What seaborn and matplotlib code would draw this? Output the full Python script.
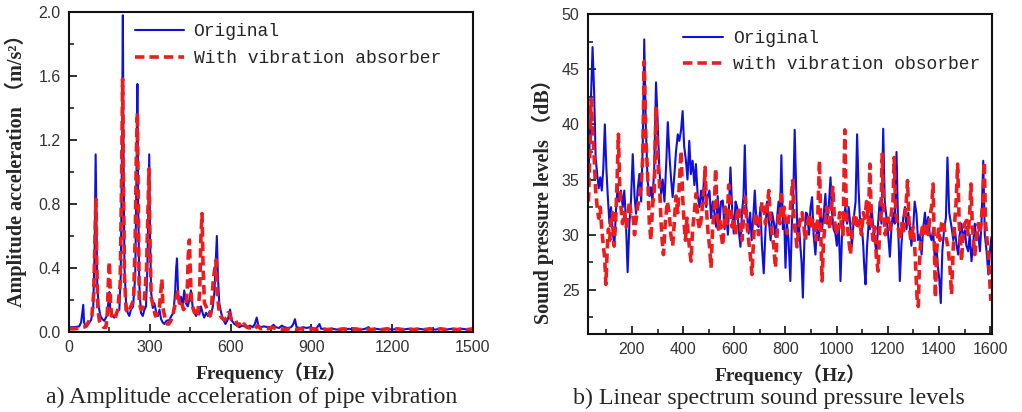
import numpy as np
import pandas as pd
import matplotlib
matplotlib.use("Agg")
import matplotlib.pyplot as plt
from matplotlib.ticker import MultipleLocator
import seaborn as sns

# ---------------- Data: panel a (pipe vibration acceleration) ----------------
freq_a_orig = [0, 20, 38, 45, 50, 53, 56, 63, 72, 82, 90, 95, 99, 102, 105, 110, 117, 124, 131, 140,
               146, 150, 154, 162, 168, 176, 187, 192, 196, 200, 203, 206, 212, 218, 224, 230, 238, 246,
               250, 254, 257, 261, 267, 274, 280, 286, 291, 295, 298, 301, 305, 311, 317, 324, 330, 336,
               342, 348, 354, 362, 373, 380, 388, 394, 398, 401, 405, 410, 416, 422, 428, 434, 441, 447,
               453, 460, 466, 472, 478, 484, 490, 496, 502, 509, 516, 522, 528, 534, 540, 545, 549, 553,
               558, 565, 572, 581, 590, 598, 605, 614, 624, 633, 642, 652, 662, 672, 682, 690, 697, 703,
               712, 724, 738, 750, 759, 768, 780, 790, 800, 812, 825, 833, 839, 845, 858, 870, 882, 895,
               905, 918, 930, 936, 950, 965, 980, 995, 1010, 1025, 1040, 1055, 1070, 1085, 1100, 1112,
               1120, 1140, 1160, 1180, 1200, 1220, 1240, 1260, 1280, 1300, 1320, 1340, 1360, 1380, 1400,
               1420, 1440, 1460, 1480, 1500]
acc_orig = [0.03, 0.03, 0.035, 0.06, 0.13, 0.17, 0.06, 0.03, 0.05, 0.075, 0.15, 0.5, 1.11, 0.7, 0.30,
            0.16, 0.10, 0.08, 0.07, 0.10, 0.18, 0.25, 0.12, 0.10, 0.09, 0.12, 0.14, 0.35, 1.0, 1.98, 1.0,
            0.4, 0.18, 0.12, 0.10, 0.14, 0.16, 0.35, 0.9, 1.55, 0.8, 0.30, 0.12, 0.10, 0.14, 0.16, 0.40,
            0.8, 1.11, 0.6, 0.25, 0.15, 0.18, 0.12, 0.10, 0.14, 0.08, 0.06, 0.05, 0.07, 0.075, 0.10, 0.12,
            0.25, 0.40, 0.46, 0.25, 0.18, 0.22, 0.16, 0.26, 0.18, 0.16, 0.20, 0.26, 0.14, 0.12, 0.10, 0.13,
            0.11, 0.16, 0.12, 0.09, 0.12, 0.10, 0.13, 0.11, 0.16, 0.25, 0.45, 0.60, 0.35, 0.18, 0.12, 0.08,
            0.05, 0.08, 0.14, 0.07, 0.05, 0.04, 0.03, 0.04, 0.035, 0.03, 0.04, 0.03, 0.05, 0.09, 0.04,
            0.03, 0.035, 0.03, 0.03, 0.045, 0.03, 0.025, 0.04, 0.03, 0.025, 0.03, 0.05, 0.08, 0.03, 0.025,
            0.03, 0.025, 0.03, 0.025, 0.02, 0.05, 0.02, 0.02, 0.015, 0.02, 0.015, 0.02, 0.015, 0.02, 0.015,
            0.02, 0.015, 0.02, 0.03, 0.015, 0.02, 0.015, 0.02, 0.015, 0.02, 0.015, 0.02, 0.015, 0.02,
            0.015, 0.02, 0.015, 0.02, 0.015, 0.02, 0.015, 0.02, 0.015, 0.02]

freq_a_abs = [0, 20, 40, 55, 65, 76, 85, 92, 96, 100, 103, 107, 113, 119, 128, 137, 142, 146, 150, 154,
              158, 162, 170, 181, 190, 195, 199, 202, 206, 212, 220, 230, 240, 246, 250, 254, 258, 261,
              268, 275, 280, 288, 293, 297, 301, 305, 313, 321, 329, 336, 341, 345, 349, 358, 365, 370,
              378, 385, 395, 404, 410, 416, 425, 435, 440, 443, 447, 451, 455, 459, 466, 472, 478, 485,
              490, 494, 498, 503, 509, 516, 524, 530, 536, 542, 546, 550, 558, 566, 577, 586, 590, 595,
              602, 608, 614, 620, 626, 633, 640, 650, 660, 670, 680, 690, 700, 712, 725, 740, 755, 770,
              785, 800, 820, 840, 860, 880, 900, 920, 940, 960, 980, 1000, 1020, 1040, 1060, 1080, 1100,
              1120, 1140, 1160, 1180, 1200, 1220, 1240, 1260, 1280, 1300, 1320, 1340, 1360, 1380, 1400,
              1420, 1440, 1460, 1480, 1500]
acc_abs = [0.02, 0.02, 0.025, 0.03, 0.04, 0.075, 0.10, 0.25, 0.55, 0.83, 0.45, 0.15, 0.07, 0.05, 0.03,
           0.03, 0.10, 0.30, 0.44, 0.20, 0.10, 0.10, 0.08, 0.14, 0.30, 0.90, 1.58, 1.0, 0.35, 0.14, 0.12,
           0.16, 0.20, 0.6, 1.1, 1.37, 0.7, 0.18, 0.14, 0.16, 0.20, 0.40, 0.75, 1.02, 0.55, 0.22, 0.16,
           0.10, 0.12, 0.16, 0.25, 0.33, 0.15, 0.075, 0.05, 0.05, 0.07, 0.10, 0.18, 0.26, 0.18, 0.20,
           0.14, 0.16, 0.30, 0.48, 0.575, 0.35, 0.18, 0.16, 0.12, 0.13, 0.10, 0.25, 0.60, 0.74, 0.40,
           0.18, 0.16, 0.12, 0.10, 0.18, 0.33, 0.40, 0.45, 0.25, 0.12, 0.09, 0.075, 0.09, 0.12, 0.12,
           0.08, 0.065, 0.065, 0.07, 0.04, 0.05, 0.03, 0.05, 0.03, 0.025, 0.03, 0.02, 0.04, 0.02, 0.025,
           0.02, 0.03, 0.02, 0.02, 0.015, 0.02, 0.015, 0.02, 0.015, 0.02, 0.015, 0.02, 0.015, 0.02,
           0.015, 0.02, 0.015, 0.02, 0.015, 0.02, 0.015, 0.02, 0.015, 0.02, 0.015, 0.02, 0.015, 0.02,
           0.015, 0.02, 0.015, 0.02, 0.015, 0.02, 0.015, 0.02, 0.015, 0.02, 0.015, 0.02]

# ---------------- Data: panel b (sound pressure level) ----------------
freq_b_orig = [30, 38, 46, 52, 58, 64, 70, 76, 82, 88, 94, 100, 105, 112, 118, 124, 131, 137, 144, 150,
               157, 164, 170, 176, 183, 190, 196, 203, 210, 216, 222, 229, 236, 242, 248, 254, 261, 268,
               274, 280, 287, 294, 300, 307, 314, 320, 327, 334, 340, 347, 353, 359, 366, 372, 379, 385,
               392, 398, 404, 411, 417, 424, 430, 437, 444, 450, 457, 464, 470, 477, 483, 490, 496, 503,
               509, 516, 522, 529, 535, 542, 548, 555, 562, 568, 575, 585, 592, 598, 605, 611, 617, 624,
               630, 636, 641, 647, 656, 662, 668, 674, 680, 687, 695, 702, 708, 715, 722, 728, 735, 742,
               748, 755, 761, 767, 773, 778, 784, 790, 795, 800, 806, 812, 819, 825, 830, 836, 842, 847,
               852, 858, 863, 868, 874, 880, 885, 892, 898, 904, 910, 917, 923, 930, 937, 943, 950, 956,
               962, 969, 976, 982, 988, 995, 1001, 1008, 1015, 1021, 1028, 1034, 1041, 1047, 1054, 1060,
               1067, 1074, 1080, 1086, 1092, 1097, 1104, 1108, 1113, 1119, 1125, 1130, 1136, 1142, 1149,
               1156, 1162, 1168, 1175, 1182, 1188, 1195, 1201, 1208, 1214, 1220, 1227, 1234, 1240, 1247,
               1253, 1260, 1267, 1273, 1280, 1286, 1292, 1299, 1305, 1312, 1318, 1325, 1332, 1338, 1345,
               1351, 1358, 1364, 1371, 1377, 1384, 1390, 1396, 1401, 1407, 1413, 1420, 1427, 1433, 1440,
               1449, 1456, 1462, 1469, 1475, 1481, 1488, 1494, 1501, 1507, 1514, 1520, 1527, 1533, 1540,
               1546, 1553, 1560, 1566, 1573, 1579, 1586, 1593, 1599, 1605]
spl_orig = [35.0, 41.0, 47.0, 43.0, 37.0, 35.5, 34.2, 35.2, 34.0, 36.0, 40.0, 36.0, 33.7, 31.0, 32.5,
            30.5, 28.9, 32.0, 34.3, 33.0, 34.0, 32.5, 34.0, 31.5, 26.6, 31.0, 33.0, 37.3, 33.5, 31.9,
            34.0, 35.5, 33.0, 38.0, 47.7, 40.0, 34.9, 33.5, 34.3, 33.0, 36.0, 43.8, 40.5, 36.0, 33.7,
            35.0, 33.0, 36.5, 40.2, 37.0, 35.0, 33.4, 35.5, 37.5, 39.1, 38.5, 39.5, 41.2, 38.0, 36.7,
            35.0, 38.5, 35.5, 36.7, 34.5, 36.4, 33.5, 32.5, 34.0, 33.0, 35.8, 32.5, 33.5, 34.0, 31.5,
            33.0, 32.0, 30.7, 33.5, 31.0, 33.0, 33.1, 30.5, 32.0, 30.0, 36.1, 32.0, 30.1, 33.0, 32.5,
            30.5, 28.9, 32.0, 33.5, 38.1, 32.5, 30.1, 32.0, 29.5, 31.5, 34.0, 31.0, 30.7, 32.5, 29.0,
            26.5, 30.5, 33.0, 31.3, 29.5, 32.0, 31.0, 29.8, 31.5, 33.0, 31.0, 37.2, 30.5, 31.5, 27.0,
            31.0, 29.5, 25.8, 31.0, 33.0, 39.5, 34.0, 30.0, 31.3, 29.0, 27.5, 24.3, 29.5, 32.0, 31.9,
            30.0, 32.5, 33.4, 30.0, 28.2, 30.5, 29.5, 31.9, 30.5, 32.0, 33.7, 31.0, 32.5, 35.2, 32.0,
            30.5, 30.1, 29.0, 31.0, 25.8, 30.0, 31.5, 32.5, 31.0, 32.5, 30.7, 29.0, 31.5, 33.0, 39.1,
            34.0, 31.0, 31.3, 29.0, 27.0, 25.5, 29.0, 31.0, 30.5, 32.5, 31.0, 29.5, 28.2, 31.0, 33.0,
            31.0, 39.6, 33.0, 31.5, 30.1, 28.0, 30.5, 32.0, 31.0, 37.5, 31.0, 25.8, 29.0, 31.5, 32.5,
            30.5, 32.0, 30.7, 29.0, 30.5, 33.0, 31.9, 29.5, 30.0, 28.2, 30.5, 32.0, 30.5, 31.6, 30.0,
            29.5, 30.5, 27.6, 29.0, 27.0, 26.0, 23.8, 28.5, 30.5, 31.5, 37.0, 32.0, 30.7, 29.5, 30.5,
            29.0, 28.2, 30.0, 31.0, 29.5, 30.4, 29.0, 28.5, 30.0, 27.6, 29.0, 31.0, 29.5, 30.1, 28.5,
            31.0, 36.7, 30.0, 28.5, 26.4, 28.5, 29.8]

freq_b_abs = [30, 35, 40, 45, 50, 53, 58, 64, 70, 76, 82, 88, 93, 98, 103, 108, 113, 118, 124, 130,
              136, 142, 147, 152, 157, 163, 170, 177, 183, 190, 196, 203, 210, 216, 222, 229, 236, 242,
              248, 254, 261, 268, 274, 280, 287, 294, 300, 307, 314, 318, 323, 330, 338, 346, 352, 359,
              366, 372, 379, 386, 392, 398, 404, 409, 415, 420, 426, 431, 437, 444, 450, 457, 464, 470,
              477, 483, 486, 492, 498, 503, 509, 515, 522, 527, 532, 538, 543, 548, 555, 560, 565, 572,
              578, 585, 591, 598, 605, 611, 617, 624, 630, 636, 643, 649, 656, 663, 669, 675, 682, 689,
              695, 702, 708, 715, 722, 728, 735, 741, 748, 754, 761, 767, 773, 778, 784, 790, 795, 800,
              806, 812, 818, 823, 828, 834, 840, 845, 852, 858, 865, 872, 878, 885, 894, 900, 907, 915,
              920, 926, 933, 938, 943, 949, 955, 961, 967, 973, 979, 985, 991, 998, 1006, 1012, 1019,
              1025, 1032, 1038, 1045, 1050, 1054, 1061, 1067, 1074, 1080, 1090, 1097, 1104, 1110, 1117,
              1124, 1130, 1136, 1142, 1149, 1155, 1162, 1168, 1173, 1178, 1184, 1190, 1195, 1202, 1208,
              1214, 1220, 1225, 1231, 1240, 1247, 1253, 1260, 1266, 1272, 1277, 1283, 1290, 1299, 1305,
              1310, 1315, 1319, 1324, 1330, 1337, 1345, 1351, 1358, 1364, 1371, 1377, 1382, 1386, 1391,
              1398, 1404, 1410, 1417, 1424, 1430, 1437, 1443, 1449, 1455, 1461, 1467, 1473, 1479, 1484,
              1488, 1494, 1501, 1508, 1514, 1520, 1525, 1530, 1535, 1540, 1546, 1553, 1560, 1566, 1571,
              1577, 1582, 1588, 1593, 1598, 1603]
spl_abs = [33.0, 37.0, 42.3, 40.0, 38.0, 36.7, 34.0, 32.5, 31.5, 32.5, 30.5, 29.0, 28.0, 25.5, 28.5,
           30.5, 29.5, 31.3, 32.0, 29.0, 31.0, 35.0, 39.1, 34.5, 32.5, 31.0, 32.0, 30.7, 31.5, 33.0,
           31.9, 32.0, 30.0, 31.3, 32.5, 33.4, 34.5, 37.0, 45.7, 39.0, 35.5, 31.0, 29.5, 32.5, 34.0,
           41.6, 37.0, 34.9, 31.0, 29.5, 28.2, 31.0, 33.0, 31.9, 30.0, 29.0, 31.3, 33.5, 32.0, 35.0,
           37.6, 33.5, 31.0, 29.5, 31.5, 30.0, 28.5, 27.6, 30.5, 32.0, 33.7, 31.5, 30.5, 31.3, 33.0,
           34.5, 36.1, 32.0, 30.0, 29.0, 27.0, 30.5, 32.5, 36.0, 32.2, 30.5, 31.5, 30.1, 29.0, 31.0,
           32.5, 31.0, 34.5, 33.0, 30.7, 31.5, 30.0, 31.9, 32.5, 31.0, 29.5, 31.5, 33.4, 31.0, 29.5,
           28.0, 26.4, 29.5, 32.0, 31.3, 30.0, 31.5, 33.0, 32.5, 31.0, 32.5, 34.0, 31.5, 30.0, 29.0,
           27.0, 30.0, 32.0, 31.0, 34.0, 31.5, 32.5, 31.0, 30.1, 31.5, 32.0, 33.5, 34.9, 31.0, 30.0,
           28.9, 30.5, 31.5, 32.0, 30.7, 29.5, 31.0, 31.9, 30.5, 31.5, 30.7, 29.5, 31.5, 36.7, 30.0,
           25.8, 29.5, 31.0, 32.5, 31.9, 30.5, 32.0, 34.3, 31.5, 30.0, 30.7, 32.0, 31.0, 30.0, 39.5,
           32.0, 30.0, 29.0, 28.2, 30.5, 31.5, 31.9, 30.5, 31.3, 30.0, 32.0, 31.5, 33.0, 31.0, 36.4,
           31.0, 29.5, 30.7, 28.0, 26.7, 30.5, 32.0, 37.3, 32.0, 30.0, 30.7, 31.5, 30.5, 32.0, 33.0,
           37.0, 32.0, 30.7, 29.5, 31.0, 30.0, 31.5, 33.0, 34.9, 31.0, 29.5, 30.7, 29.0, 26.5, 24.0,
           23.5, 27.5, 30.0, 31.0, 29.8, 31.0, 30.0, 31.5, 32.5, 34.6, 29.0, 24.3, 28.5, 30.5, 29.5,
           31.0, 31.3, 30.0, 29.5, 28.5, 27.0, 24.6, 28.5, 31.0, 33.0, 36.4, 31.0, 29.5, 27.6, 30.0,
           31.0, 31.3, 30.0, 32.0, 34.6, 31.0, 29.5, 28.2, 29.5, 31.0, 30.1, 31.5, 33.0, 36.6, 31.0,
           29.5, 28.2, 26.0, 24.0]

labels_a = ["Original", "With vibration absorber"]
labels_b = ["Original", "with vibration obsorber"]
xticks_a = [0, 300, 600, 900, 1200, 1500]
yticks_a = [0.0, 0.4, 0.8, 1.2, 1.6, 2.0]
xticks_b = [200, 400, 600, 800, 1000, 1200, 1400, 1600]
yticks_b = [25, 30, 35, 40, 45, 50]

# ---------------- Style ----------------
sns.set_style("ticks")
plt.rcParams.update({
    "font.family": ["Liberation Sans", "DejaVu Sans"],
    "axes.linewidth": 1.5,
    "axes.edgecolor": "#111111",
    "xtick.direction": "in",
    "ytick.direction": "in",
    "xtick.color": "#222222",
    "ytick.color": "#222222",
    "xtick.labelcolor": "#333333",
    "ytick.labelcolor": "#333333",
    "xtick.labelsize": 11.5,
    "ytick.labelsize": 11.5,
})

BLUE = "#1010dd"
RED = "#ee1c1c"
xlabel_font = dict(family=["Liberation Serif", "Noto Sans CJK SC"], weight="bold", size=14)
ylabel_font_a = dict(family=["Liberation Serif", "Noto Sans CJK SC"], weight="bold", size=14.5)
ylabel_font_b = dict(family=["Liberation Serif", "Noto Sans CJK SC"], weight="bold", size=14.5)
cap_font = dict(family=["Liberation Serif"], size=17.2)
legend_font = dict(family="Liberation Mono", size=13)

fig = plt.figure(figsize=(10.22, 4.12), dpi=100)
ax1 = fig.add_axes([0.0675, 0.1942, 0.3953, 0.7767])
ax2 = fig.add_axes([0.5753, 0.1893, 0.3953, 0.7767])

da_o = pd.DataFrame({"f": freq_a_orig, "v": acc_orig})
da_a = pd.DataFrame({"f": freq_a_abs, "v": acc_abs})
db_o = pd.DataFrame({"f": freq_b_orig, "v": spl_orig})
db_a = pd.DataFrame({"f": freq_b_abs, "v": spl_abs})

sns.lineplot(data=da_o, x="f", y="v", ax=ax1, color=BLUE, lw=1.5, sort=False,
             estimator=None, label=labels_a[0])
sns.lineplot(data=da_a, x="f", y="v", ax=ax1, color=RED, lw=2.6, sort=False,
             estimator=None, label=labels_a[1], dashes=False, linestyle=(0, (2.6, 1.4)))
sns.lineplot(data=db_o, x="f", y="v", ax=ax2, color=BLUE, lw=1.5, sort=False,
             estimator=None, label=labels_b[0])
sns.lineplot(data=db_a, x="f", y="v", ax=ax2, color=RED, lw=2.6, sort=False,
             estimator=None, label=labels_b[1], dashes=False, linestyle=(0, (2.6, 1.4)))

# Panel a axes
ax1.set_xlim(0, 1500)
ax1.set_ylim(0, 2.0)
ax1.set_xticks(xticks_a)
ax1.set_yticks(yticks_a)
ax1.set_yticklabels([f"{v:.1f}" for v in yticks_a])
ax1.xaxis.set_minor_locator(MultipleLocator(150))
ax1.yaxis.set_minor_locator(MultipleLocator(0.2))

# Panel b axes
ax2.set_xlim(28, 1607)
ax2.set_ylim(21, 50)
ax2.set_xticks(xticks_b)
ax2.set_yticks(yticks_b)
ax2.xaxis.set_minor_locator(MultipleLocator(100))
ax2.yaxis.set_minor_locator(MultipleLocator(2.5))

for ax in (ax1, ax2):
    ax.tick_params(which="major", direction="in", length=6, width=1.3, pad=6, top=False, right=False)
    ax.tick_params(which="minor", direction="in", length=3.5, width=1.2, top=False, right=False)
    for s in ax.spines.values():
        s.set_visible(True)
        s.set_linewidth(1.5)
    ax.set_xlabel("")
    ax.set_ylabel("")

ax1.set_xlabel("Frequency（Hz）", fontdict=xlabel_font, labelpad=5)
ax2.set_xlabel("Frequency（Hz）", fontdict=xlabel_font, labelpad=5)
ax1.set_ylabel("Amplitude acceleration （m/s²）", fontdict=ylabel_font_a)
ax2.set_ylabel("Sound pressure levels （dB）", fontdict=ylabel_font_b)
ax1.yaxis.set_label_coords((27 - 69) / 404, 0.52)
ax2.yaxis.set_label_coords((554 - 588) / 404, 0.43)

ax1.legend(loc="upper left", bbox_to_anchor=(0.163, 0.965), frameon=False, prop=legend_font,
           handlelength=2.7, handletextpad=0.55, labelspacing=0.55, borderpad=0, borderaxespad=0)
ax2.legend(loc="upper left", bbox_to_anchor=(0.235, 0.95), frameon=False, prop=legend_font,
           handlelength=2.2, handletextpad=0.6, labelspacing=0.5, borderpad=0, borderaxespad=0)

fig.text(252 / 1022, 1 - 397 / 412, "a) Amplitude acceleration of pipe vibration",
         ha="center", va="center", fontdict=cap_font)
fig.text(769 / 1022, 1 - 398 / 412, "b) Linear spectrum sound pressure levels",
         ha="center", va="center", fontdict=cap_font)

fig.savefig("out.png", dpi=100)
